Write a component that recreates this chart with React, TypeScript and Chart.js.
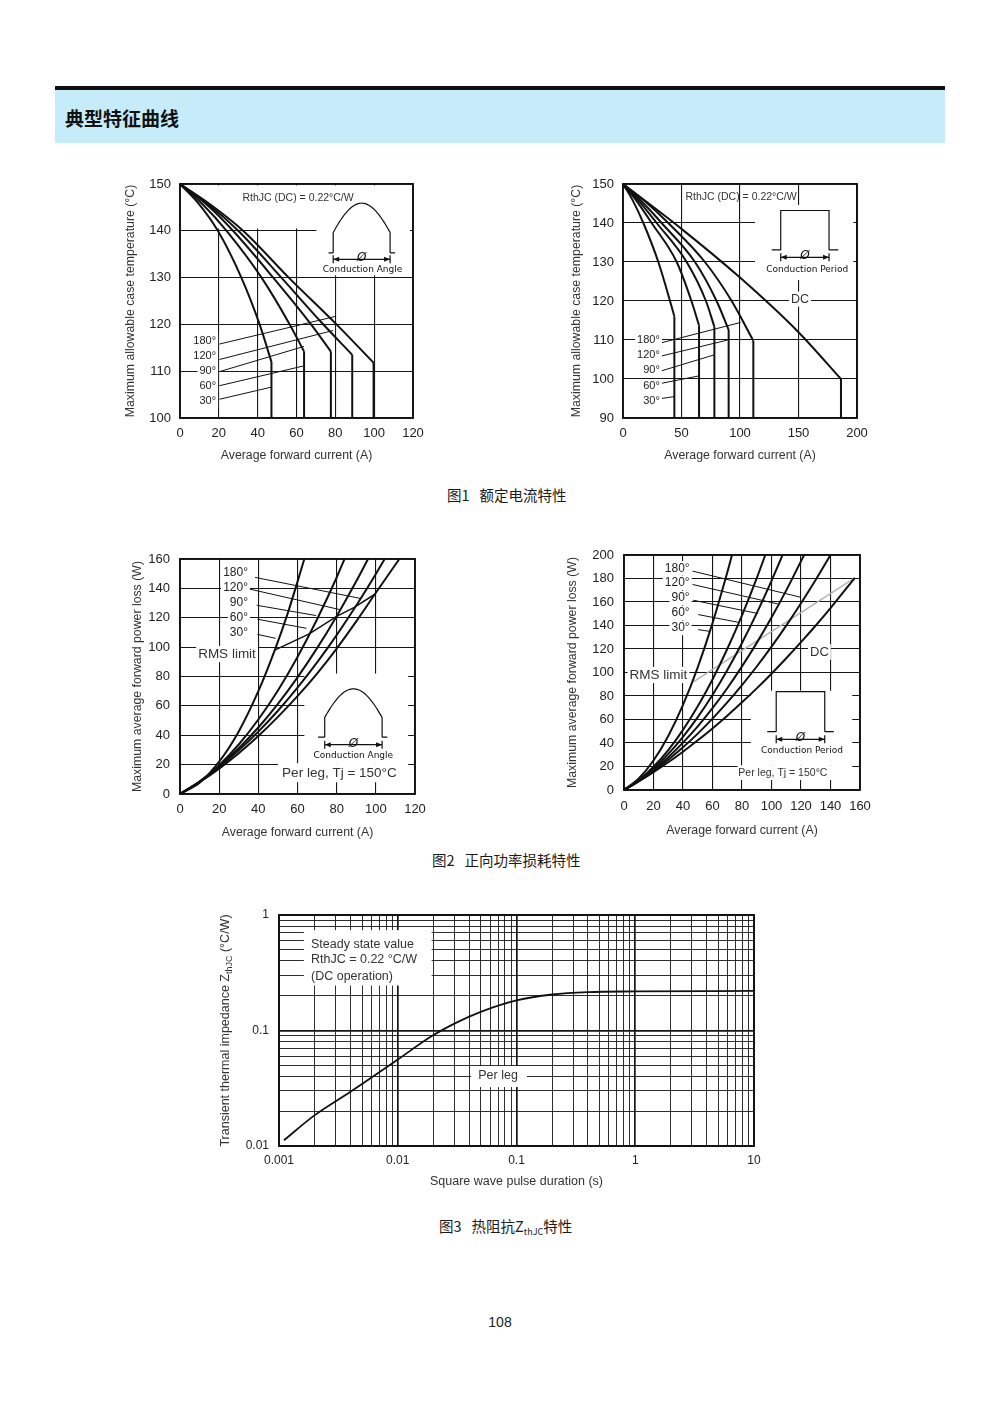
import React, { useEffect, useRef } from 'react';
import { Chart, registerables } from 'chart.js';
Chart.register(...registerables);

// ================= Figure 1 (left): case temperature vs current, sine conduction angle =================
const F1L_X_TICKS = [0, 20, 40, 60, 80, 100, 120];
const F1L_Y_TICKS = [100, 110, 120, 130, 140, 150];
const F1L_I_180 = [0, 16, 32.5, 56, 80.6, 99.7];
const F1L_T_180 = [150, 145.5, 140, 130, 120, 111.8];
const F1L_I_120 = [0, 15, 30, 52.2, 72.9, 88.7];
const F1L_T_120 = [150, 145.5, 140, 130, 120.4, 113.5];
const F1L_I_90 = [0, 14, 27.3, 48, 67.5, 77.7];
const F1L_T_90 = [150, 145.5, 140, 130, 120, 114.2];
const F1L_I_60 = [0, 12, 24, 42, 56.5, 63.9];
const F1L_T_60 = [150, 145.5, 140, 130, 120, 114.2];
const F1L_I_30 = [0, 10, 19.5, 31.6, 41, 47.1];
const F1L_T_30 = [150, 145.6, 140, 130, 120, 112];

// ================= Figure 1 (right): case temperature vs current, rectangular conduction period =================
const F1R_X_TICKS = [0, 50, 100, 150, 200];
const F1R_Y_TICKS = [90, 100, 110, 120, 130, 140, 150];
const F1R_I_DC = [0, 50, 100, 150, 186.3];
const F1R_T_DC = [150, 138.5, 126, 112, 100];
const F1R_I_180 = [0, 19, 38.7, 70, 92.9, 111.4];
const F1R_T_180 = [150, 145.5, 140, 130, 120, 109.8];
const F1R_I_120 = [0, 16, 33, 61.5, 80, 90.3];
const F1R_T_120 = [150, 145.5, 140, 130, 120, 112.6];
const F1R_I_90 = [0, 14, 28.8, 54.4, 70.9, 78.1];
const F1R_T_90 = [150, 145.5, 140, 130, 120, 113.4];
const F1R_I_60 = [0, 12, 24.5, 45.9, 58.5, 65];
const F1R_T_60 = [150, 145.5, 140, 130, 120, 113.7];
const F1R_I_30 = [0, 8, 17.4, 30.2, 40.2, 43.9];
const F1R_T_30 = [150, 146, 140, 130, 120, 116];

// ================= Figure 2 (left): power loss vs current, sine =================
const F2L_X_TICKS = [0, 20, 40, 60, 80, 100, 120];
const F2L_Y_TICKS = [0, 20, 40, 60, 80, 100, 120, 140, 160];
const F2L_I_30 = [0, 10, 20, 30, 40, 48.4, 55, 63.5];
const F2L_P_30 = [0, 7.7, 22, 42.6, 70, 98, 123, 160];
const F2L_I_60 = [0, 10, 20, 30, 40, 50, 60, 70, 80, 84];
const F2L_P_60 = [0, 8.3, 19.6, 33.7, 50.7, 70.5, 93.3, 119, 147.4, 160];
const F2L_I_90 = [0, 10, 20, 30, 40, 50, 60, 70, 80, 90, 96];
const F2L_P_90 = [0, 8.5, 18.9, 31.2, 45.3, 61.4, 79.4, 99.3, 121.1, 144.8, 160];
const F2L_I_120 = [0, 10, 20, 30, 40, 50, 60, 70, 80, 90, 100, 104.5];
const F2L_P_120 = [0, 8.4, 18.3, 29.7, 42.5, 56.7, 72.4, 89.6, 108.2, 128.3, 149.8, 160];
const F2L_I_180 = [0, 10, 20, 30, 40, 50, 60, 70, 80, 90, 100, 112];
const F2L_P_180 = [0, 8.1, 17.3, 27.8, 39.5, 52.5, 66.6, 82, 99, 117.5, 137, 160];
const F2L_RMS_I = [48.4, 66, 80, 89, 99.5];
const F2L_RMS_P = [98, 109, 121, 127, 136];

// ================= Figure 2 (right): power loss vs current, rectangular =================
const F2R_X_TICKS = [0, 20, 40, 60, 80, 100, 120, 140, 160];
const F2R_Y_TICKS = [0, 20, 40, 60, 80, 100, 120, 140, 160, 180, 200];
const F2R_I_30 = [0, 10, 20, 30, 40, 50, 60, 70, 73.2];
const F2R_P_30 = [0, 9.8, 25.1, 46, 72.4, 104.4, 142, 185.1, 200];
const F2R_I_60 = [0, 10, 20, 30, 40, 50, 60, 70, 80, 90, 95.8];
const F2R_P_60 = [0, 8.4, 19.8, 34, 51.2, 71.2, 94.1, 120, 148.7, 180.3, 200];
const F2R_I_90 = [0, 10, 20, 30, 40, 50, 60, 70, 80, 90, 100, 107.5];
const F2R_P_90 = [0, 8.1, 18.3, 30.7, 45.3, 62, 80.9, 101.9, 125.1, 150.5, 178, 200];
const F2R_I_120 = [0, 10, 20, 30, 40, 50, 60, 70, 80, 90, 100, 110, 122.1];
const F2R_P_120 = [0, 7.8, 17.1, 27.9, 40.3, 54.2, 69.6, 86.6, 105.2, 125.2, 146.8, 169.9, 200];
const F2R_I_180 = [0, 10, 20, 30, 40, 50, 60, 70, 80, 90, 100, 110, 120, 130, 140];
const F2R_P_180 = [0, 7.5, 16.1, 25.7, 36.3, 48, 60.7, 74.5, 89.3, 105.1, 122, 139.9, 158.9, 178.9, 200];
const F2R_I_DC = [0, 10, 20, 30, 40, 50, 60, 70, 80, 90, 100, 110, 120, 130, 140, 156.5];
const F2R_P_DC = [0, 7.3, 15.2, 23.6, 32.6, 42.3, 52.4, 63.2, 74.6, 86.5, 99, 112.1, 125.8, 140, 154.8, 180.6];
const F2R_RMS_I = [47.3, 156.5];
const F2R_RMS_P = [92.2, 180.6];

// ================= Figure 3: transient thermal impedance =================
const Z_X_TICKS = [0.001, 0.01, 0.1, 1, 10];
const Z_X_LABELS = ['0.001', '0.01', '0.1', '1', '10'];
const Z_Y_TICKS = [0.01, 0.1, 1];
const Z_Y_LABELS = ['0.01', '0.1', '1'];
const Z_T = [0.0011, 0.002, 0.004, 0.01, 0.0192, 0.0312, 0.05, 0.1, 0.2, 0.4, 1, 10];
const Z_Z = [0.0112, 0.0185, 0.0295, 0.056, 0.089, 0.117, 0.145, 0.182, 0.205, 0.215, 0.218, 0.22];

const ANGLES = ['180°', '120°', '90°', '60°', '30°'];

const SANS = '"Liberation Sans", Arial, sans-serif';
const TECH = '"DejaVu Sans", sans-serif';
const CJK = '"Noto Sans CJK SC", "Noto Sans", sans-serif';

type Rect4 = [number, number, number, number];
interface Lbl { text: string; x: number; y: number; size: number; align?: CanvasTextAlign; bg?: boolean; font?: string; color?: string; }
interface Inset { kind: 'sine' | 'rect'; xl: number; xr: number; yb: number; yt: number; segL: number; segR: number; arrowY: number; textX: number; textY: number; text: string; }
interface LineDef { xs: number[]; ys: number[]; width: number; color: string; smooth: boolean; }
interface AxisDef { min: number; max: number; ticks: number[]; labels: string[]; log?: boolean; title?: string; }
interface Spec {
  box: { cx: number; cy: number; cw: number; ch: number; L: number; T: number; R: number; B: number; yTitleX: number; xTitleY: number };
  x: AxisDef; y: AxisDef;
  tickSize: number; titleSize: number; xPad: number; yPad: number;
  lines: LineDef[]; masks: Rect4[]; labels: Lbl[]; insets: Inset[];
  richYTitle?: [string, string, string];
}

const curve = (xs: number[], ys: number[], w = 2): LineDef => ({ xs, ys, width: w, color: '#111', smooth: true });
const straight = (xs: number[], ys: number[], w = 1, color = '#111'): LineDef => ({ xs, ys, width: w, color, smooth: false });
const drop = (xs: number[], ys: number[], yMin: number): LineDef =>
  straight([xs[xs.length - 1], xs[xs.length - 1]], [ys[ys.length - 1], yMin], 2);
const leaders = (segs: Rect4[]): LineDef[] => segs.map(([a, b, c, d]) => straight([a, c], [b, d], 1));
const angleLabels = (x: number, ys: number[], size: number): Lbl[] =>
  ANGLES.map((t, i) => ({ text: t, x, y: ys[i], size, align: 'right' as CanvasTextAlign, bg: true }));
const str = (a: number[]) => a.map((v) => String(v));

const SPECS: Spec[] = [
  {
    box: { cx: 100, cy: 160, cw: 340, ch: 310, L: 180, T: 184, R: 413, B: 418, yTitleX: 131, xTitleY: 456 },
    x: { min: 0, max: 120, ticks: F1L_X_TICKS, labels: str(F1L_X_TICKS), title: 'Average forward current (A)' },
    y: { min: 100, max: 150, ticks: F1L_Y_TICKS, labels: str(F1L_Y_TICKS), title: 'Maximum allowable case temperature (°C)' },
    tickSize: 13, titleSize: 12.3, xPad: 8, yPad: 9,
    lines: [
      curve(F1L_I_180, F1L_T_180), drop(F1L_I_180, F1L_T_180, 100),
      curve(F1L_I_120, F1L_T_120), drop(F1L_I_120, F1L_T_120, 100),
      curve(F1L_I_90, F1L_T_90), drop(F1L_I_90, F1L_T_90, 100),
      curve(F1L_I_60, F1L_T_60), drop(F1L_I_60, F1L_T_60, 100),
      curve(F1L_I_30, F1L_T_30), drop(F1L_I_30, F1L_T_30, 100),
      ...leaders([[20.3, 115.8, 80, 121.7], [20.3, 112.5, 78.9, 118.7], [20.3, 109.9, 63.9, 115.3], [20.3, 106.9, 63.4, 111.1], [20.3, 104, 47.1, 106.6]]),
    ],
    masks: [[1, 140.5, 70.3, 149.7], [70.3, 130.5, 118.4, 149.7]],
    labels: [
      ...angleLabels(18.6, [116.5, 113.2, 110, 106.8, 103.6], 11),
      { text: 'RthJC (DC) = 0.22°C/W', x: 60.8, y: 147, size: 10.5, color: '#333' },
    ],
    insets: [{ kind: 'sine', xl: 78.9, xr: 108.2, yb: 135.3, yt: 145.9, segL: 76.5, segR: 110.8, arrowY: 133.9, textX: 94, textY: 131.8, text: 'Conduction Angle' }],
  },
  {
    box: { cx: 545, cy: 160, cw: 340, ch: 310, L: 623, T: 184, R: 857, B: 418, yTitleX: 577, xTitleY: 456 },
    x: { min: 0, max: 200, ticks: F1R_X_TICKS, labels: str(F1R_X_TICKS), title: 'Average forward current (A)' },
    y: { min: 90, max: 150, ticks: F1R_Y_TICKS, labels: str(F1R_Y_TICKS), title: 'Maximum allowable case temperature (°C)' },
    tickSize: 13, titleSize: 12.3, xPad: 8, yPad: 9,
    lines: [
      curve(F1R_I_DC, F1R_T_DC), drop(F1R_I_DC, F1R_T_DC, 90),
      curve(F1R_I_180, F1R_T_180), drop(F1R_I_180, F1R_T_180, 90),
      curve(F1R_I_120, F1R_T_120), drop(F1R_I_120, F1R_T_120, 90),
      curve(F1R_I_90, F1R_T_90), drop(F1R_I_90, F1R_T_90, 90),
      curve(F1R_I_60, F1R_T_60), drop(F1R_I_60, F1R_T_60, 90),
      curve(F1R_I_30, F1R_T_30), drop(F1R_I_30, F1R_T_30, 90),
      ...leaders([[33, 109.3, 100.5, 114.5], [33, 105.9, 89.5, 110], [33, 102.1, 78.1, 106.2], [33, 98.9, 65, 100.8], [33, 95, 43.9, 95.5]]),
    ],
    masks: [[112.8, 125.4, 196.9, 144.6]],
    labels: [
      ...angleLabels(31.5, [110, 106.2, 102.3, 98.2, 94.4], 11),
      { text: 'RthJC (DC) = 0.22°C/W', x: 100.9, y: 146.7, size: 10.5, color: '#333' },
      { text: 'DC', x: 151.3, y: 120.5, size: 12.5, bg: true, color: '#333' },
    ],
    insets: [{ kind: 'rect', xl: 134.8, xr: 176.1, yb: 133.1, yt: 143.2, segL: 127.1, segR: 184, arrowY: 131.2, textX: 157.5, textY: 128.1, text: 'Conduction Period' }],
  },
  {
    box: { cx: 100, cy: 535, cw: 340, ch: 310, L: 180, T: 559, R: 415, B: 794, yTitleX: 138, xTitleY: 833 },
    x: { min: 0, max: 120, ticks: F2L_X_TICKS, labels: str(F2L_X_TICKS), title: 'Average forward current (A)' },
    y: { min: 0, max: 160, ticks: F2L_Y_TICKS, labels: str(F2L_Y_TICKS), title: 'Maximum average forward power loss (W)' },
    tickSize: 13, titleSize: 12.3, xPad: 8, yPad: 10,
    lines: [
      curve(F2L_I_30, F2L_P_30), curve(F2L_I_60, F2L_P_60), curve(F2L_I_90, F2L_P_90),
      curve(F2L_I_120, F2L_P_120), curve(F2L_I_180, F2L_P_180),
      straight(F2L_RMS_I, F2L_RMS_P, 1.5),
      ...leaders([[38.3, 147.5, 92, 133.2], [35.6, 139.5, 81.5, 125.6], [39.2, 128.5, 69.5, 121.5], [39.5, 119, 64.6, 112.8], [39.5, 108.7, 48.8, 106]]),
    ],
    masks: [[63.5, 21, 116.5, 82], [50, 8, 116.5, 21]],
    labels: [
      ...angleLabels(34.7, [150.4, 140.2, 130, 119.8, 109.6], 12),
      { text: 'RMS limit', x: 24, y: 95.3, size: 13.5, bg: true, color: '#333' },
      { text: 'Per leg, Tj = 150°C', x: 81.4, y: 14.1, size: 13.5, color: '#333' },
    ],
    insets: [{ kind: 'sine', xl: 73.9, xr: 103.2, yb: 38.7, yt: 71.6, segL: 70.5, segR: 105.9, arrowY: 33.6, textX: 88.5, textY: 26.4, text: 'Conduction Angle' }],
  },
  {
    box: { cx: 545, cy: 530, cw: 340, ch: 315, L: 624, T: 555, R: 860, B: 790, yTitleX: 573, xTitleY: 831 },
    x: { min: 0, max: 160, ticks: F2R_X_TICKS, labels: str(F2R_X_TICKS), title: 'Average forward current (A)' },
    y: { min: 0, max: 200, ticks: F2R_Y_TICKS, labels: str(F2R_Y_TICKS), title: 'Maximum average forward power loss (W)' },
    tickSize: 13, titleSize: 12.3, xPad: 9, yPad: 10,
    lines: [
      curve(F2R_I_30, F2R_P_30), curve(F2R_I_60, F2R_P_60), curve(F2R_I_90, F2R_P_90),
      curve(F2R_I_120, F2R_P_120), curve(F2R_I_180, F2R_P_180), curve(F2R_I_DC, F2R_P_DC),
      straight(F2R_RMS_I, F2R_RMS_P, 1.5, '#b4b4b4'),
      ...leaders([[46.5, 186.3, 119.9, 164], [46.5, 174.9, 104.2, 158.4], [47, 161.5, 90.7, 150.2], [50.3, 149.3, 77.2, 142.8], [50.3, 136.5, 57.7, 135.1]]),
    ],
    masks: [[86, 21, 154.7, 84.5], [77, 8.5, 154.7, 21]],
    labels: [
      ...angleLabels(44.5, [188.7, 176.2, 163.4, 150.6, 137.9], 12),
      { text: 'RMS limit', x: 23.3, y: 97.9, size: 13.5, bg: true, color: '#333' },
      { text: 'DC', x: 132.5, y: 117.4, size: 13, bg: true, color: '#333' },
      { text: 'Per leg, Tj = 150°C', x: 107.7, y: 14.7, size: 10.5, color: '#333' },
    ],
    insets: [{ kind: 'rect', xl: 103.2, xr: 136.1, yb: 49.6, yt: 83.7, segL: 97.1, segR: 142.3, arrowY: 43.1, textX: 120.7, textY: 33.2, text: 'Conduction Period' }],
  },
  {
    box: { cx: 200, cy: 895, cw: 580, ch: 305, L: 279, T: 915, R: 754, B: 1146, yTitleX: 226, xTitleY: 1182 },
    x: { min: 0.001, max: 10, ticks: Z_X_TICKS, labels: Z_X_LABELS, log: true, title: 'Square wave pulse duration (s)' },
    y: { min: 0.01, max: 1, ticks: Z_Y_TICKS, labels: Z_Y_LABELS, log: true },
    tickSize: 12, titleSize: 12.5, xPad: 7, yPad: 10,
    lines: [curve(Z_T, Z_Z, 1.8)],
    masks: [[0.00162, 0.245, 0.0193, 0.74], [0.0415, 0.0324, 0.1225, 0.0493]],
    labels: [
      { text: 'Steady state value', x: 0.00186, y: 0.55, size: 12.5, align: 'left', color: '#333' },
      { text: 'RthJC = 0.22 °C/W', x: 0.00186, y: 0.408, size: 12.5, align: 'left', color: '#333' },
      { text: '(DC operation)', x: 0.00186, y: 0.296, size: 12.5, align: 'left', color: '#333' },
      { text: 'Per leg', x: 0.0699, y: 0.0404, size: 12.5, color: '#333' },
    ],
    insets: [],
    richYTitle: ['Transient thermal impedance Z', 'thJC', ' (°C/W)'],
  },
];

function logGrid(majors: number[]): number[] {
  const out: number[] = [];
  for (let i = 0; i < majors.length; i++) {
    out.push(majors[i]);
    if (i < majors.length - 1) for (let k = 2; k <= 9; k++) out.push(majors[i] * k);
  }
  return out;
}

function scaleCfg(spec: Spec, ax: AxisDef, isX: boolean) {
  const b = spec.box;
  const lh = spec.titleSize * 1.2;
  const all = ax.log ? logGrid(ax.ticks) : ax.ticks;
  const idx = (v: number) => ax.ticks.findIndex((t) => Math.abs(t - v) <= Math.abs(t) * 1e-6 + 1e-12);
  return {
    type: ax.log ? 'logarithmic' : 'linear',
    min: ax.min,
    max: ax.max,
    bounds: 'data',
    afterBuildTicks: (s: any) => { s.ticks = all.map((v) => ({ value: v })); },
    afterFit: (s: any) => {
      if (isX) { s.height = b.cy + b.ch - b.B; s.paddingLeft = 0; s.paddingRight = 0; }
      else { s.width = b.L - b.cx; s.paddingTop = 0; s.paddingBottom = 0; }
    },
    ticks: {
      autoSkip: false, maxRotation: 0, minRotation: 0,
      padding: isX ? spec.xPad : spec.yPad,
      color: '#222',
      font: { family: SANS, size: spec.tickSize },
      callback: (v: any) => { const i = idx(Number(v)); return i >= 0 ? ax.labels[i] : ''; },
    },
    grid: {
      color: '#161616',
      lineWidth: (c: any) => (ax.log ? (c.tick && idx(c.tick.value) >= 0 ? 1.7 : 0.9) : 1.1),
      drawTicks: false,
    },
    border: { display: false },
    title: ax.title
      ? {
          display: true, text: ax.title, color: '#333',
          font: { family: SANS, size: spec.titleSize },
          padding: isX ? { top: 0, bottom: b.cy + b.ch - b.xTitleY - lh / 2 } : { top: b.yTitleX - b.cx - lh / 2, bottom: 0 },
        }
      : { display: false },
  };
}

function drawLabel(ctx: CanvasRenderingContext2D, sx: any, sy: any, l: Lbl) {
  ctx.font = `${l.size}px ${l.font || SANS}`;
  const w = ctx.measureText(l.text).width;
  const px = sx.getPixelForValue(l.x);
  const py = sy.getPixelForValue(l.y);
  const align = l.align || 'center';
  const left = align === 'left' ? px : align === 'right' ? px - w : px - w / 2;
  if (l.bg) {
    ctx.fillStyle = '#fff';
    ctx.fillRect(left - 2, py - l.size * 0.6, w + 4, l.size * 1.2);
  }
  ctx.fillStyle = l.color || '#222';
  ctx.textAlign = 'left';
  ctx.textBaseline = 'middle';
  ctx.fillText(l.text, left, py);
}

function drawInset(ctx: CanvasRenderingContext2D, sx: any, sy: any, s: Inset) {
  const X = (v: number) => sx.getPixelForValue(v);
  const Y = (v: number) => sy.getPixelForValue(v);
  const xl = X(s.xl), xr = X(s.xr), yb = Y(s.yb), yt = Y(s.yt), ay = Y(s.arrowY);
  ctx.save();
  ctx.strokeStyle = '#111';
  ctx.fillStyle = '#111';
  ctx.lineWidth = 1.2;
  ctx.beginPath();
  ctx.moveTo(X(s.segL), yb); ctx.lineTo(xl, yb);
  ctx.moveTo(xr, yb); ctx.lineTo(X(s.segR), yb);
  if (s.kind === 'rect') {
    ctx.moveTo(xl, yb); ctx.lineTo(xl, yt); ctx.lineTo(xr, yt); ctx.lineTo(xr, yb);
  } else {
    const t0 = 0.42;
    const n = 48;
    ctx.moveTo(xl, yb);
    for (let i = 0; i <= n; i++) {
      const t = t0 + ((Math.PI - 2 * t0) * i) / n;
      ctx.lineTo(xl + ((xr - xl) * i) / n, yb + (yt - yb) * Math.sin(t));
    }
    ctx.lineTo(xr, yb);
  }
  ctx.moveTo(xl, ay); ctx.lineTo(xr, ay);
  ctx.moveTo(xl, ay - 4); ctx.lineTo(xl, ay + 4);
  ctx.moveTo(xr, ay - 4); ctx.lineTo(xr, ay + 4);
  ctx.stroke();
  ctx.beginPath();
  ctx.moveTo(xl, ay); ctx.lineTo(xl + 6, ay - 2.5); ctx.lineTo(xl + 6, ay + 2.5); ctx.closePath();
  ctx.moveTo(xr, ay); ctx.lineTo(xr - 6, ay - 2.5); ctx.lineTo(xr - 6, ay + 2.5); ctx.closePath();
  ctx.fill();
  ctx.textAlign = 'center';
  ctx.textBaseline = 'middle';
  ctx.font = `italic 12px ${TECH}`;
  ctx.fillText('Ø', (xl + xr) / 2, ay - 1);
  ctx.font = `9px ${TECH}`;
  ctx.fillText(s.text, X(s.textX), Y(s.textY));
  ctx.restore();
}

function decor(spec: Spec) {
  return {
    id: 'decor',
    beforeDatasetsDraw(chart: any) {
      const ctx = chart.ctx as CanvasRenderingContext2D;
      const sx = chart.scales.x, sy = chart.scales.y;
      ctx.save();
      ctx.fillStyle = '#fff';
      for (const [x1, y1, x2, y2] of spec.masks) {
        const a = sx.getPixelForValue(x1), c = sx.getPixelForValue(x2);
        const b2 = sy.getPixelForValue(y1), d = sy.getPixelForValue(y2);
        ctx.fillRect(Math.min(a, c), Math.min(b2, d), Math.abs(c - a), Math.abs(d - b2));
      }
      ctx.restore();
    },
    afterDatasetsDraw(chart: any) {
      const ctx = chart.ctx as CanvasRenderingContext2D;
      const sx = chart.scales.x, sy = chart.scales.y;
      ctx.save();
      for (const ins of spec.insets) drawInset(ctx, sx, sy, ins);
      for (const l of spec.labels) drawLabel(ctx, sx, sy, l);
      ctx.restore();
    },
    afterDraw(chart: any) {
      const ctx = chart.ctx as CanvasRenderingContext2D;
      const a = chart.chartArea;
      ctx.save();
      ctx.strokeStyle = '#111';
      ctx.lineWidth = 1.9;
      ctx.strokeRect(a.left, a.top, a.right - a.left, a.bottom - a.top);
      if (spec.richYTitle) {
        const [t1, t2, t3] = spec.richYTitle;
        const f1 = `${spec.titleSize}px ${SANS}`;
        const f2 = `${(spec.titleSize * 0.72).toFixed(1)}px ${SANS}`;
        ctx.translate(spec.box.yTitleX - spec.box.cx, (a.top + a.bottom) / 2);
        ctx.rotate(-Math.PI / 2);
        ctx.font = f1;
        const w1 = ctx.measureText(t1).width, w3 = ctx.measureText(t3).width;
        ctx.font = f2;
        const w2 = ctx.measureText(t2).width;
        let x = -(w1 + w2 + w3) / 2;
        ctx.fillStyle = '#333';
        ctx.textAlign = 'left';
        ctx.textBaseline = 'middle';
        ctx.font = f1; ctx.fillText(t1, x, 0); x += w1;
        ctx.font = f2; ctx.fillText(t2, x, spec.titleSize * 0.32); x += w2;
        ctx.font = f1; ctx.fillText(t3, x, 0);
      }
      ctx.restore();
    },
  };
}

function Panel({ spec }: { spec: Spec }) {
  const ref = useRef<HTMLCanvasElement>(null);
  const b = spec.box;
  useEffect(() => {
    if (!ref.current) return;
    const datasets = spec.lines.map((l) => ({
      data: l.xs.map((x, i) => ({ x, y: l.ys[i] })),
      showLine: true,
      borderColor: l.color,
      borderWidth: l.width,
      pointRadius: 0,
      fill: false,
      tension: 0,
      cubicInterpolationMode: l.smooth ? 'monotone' : 'default',
    }));
    const chart = new Chart(ref.current, {
      type: 'scatter',
      data: { datasets } as any,
      options: {
        responsive: false,
        maintainAspectRatio: false,
        animation: false,
        events: [],
        layout: { autoPadding: false, padding: { left: 0, top: b.T - b.cy, right: b.cx + b.cw - b.R, bottom: 0 } },
        plugins: { legend: { display: false }, tooltip: { enabled: false } },
        scales: { x: scaleCfg(spec, spec.x, true), y: scaleCfg(spec, spec.y, false) } as any,
      } as any,
      plugins: [decor(spec) as any],
    });
    return () => chart.destroy();
  }, [spec]);
  return (
    <canvas
      ref={ref}
      width={b.cw}
      height={b.ch}
      style={{ position: 'absolute', left: b.cx, top: b.cy, width: b.cw, height: b.ch }}
    />
  );
}

const captionStyle: React.CSSProperties = {
  position: 'absolute', fontFamily: CJK, fontSize: 14.5, lineHeight: '20px', color: '#1a1a1a', whiteSpace: 'pre',
};

export default function App() {
  return (
    <div style={{ position: 'absolute', left: 0, top: 0, width: 1000, height: 1414, background: '#fff', overflow: 'hidden' }}>
      <div style={{ position: 'absolute', left: 55, top: 86, width: 890, height: 4, background: '#111' }} />
      <div style={{ position: 'absolute', left: 55, top: 90, width: 890, height: 53, background: '#c6ecf9' }} />
      <div style={{ position: 'absolute', left: 65, top: 104, fontFamily: CJK, fontSize: 19, fontWeight: 700, lineHeight: '28px', color: '#111' }}>
        典型特征曲线
      </div>
      {SPECS.map((s, i) => (
        <Panel key={i} spec={s} />
      ))}
      <div style={{ ...captionStyle, left: 447, top: 485 }}>
        图1<span style={{ marginLeft: 10 }}>额定电流特性</span>
      </div>
      <div style={{ ...captionStyle, left: 432, top: 850 }}>
        图2<span style={{ marginLeft: 10 }}>正向功率损耗特性</span>
      </div>
      <div style={{ ...captionStyle, left: 439, top: 1216 }}>
        图3<span style={{ marginLeft: 10 }}>热阻抗Z</span>
        <span style={{ fontSize: 9, verticalAlign: -3 }}>thJC</span>特性
      </div>
      <div style={{ position: 'absolute', left: 0, width: 1000, top: 1313, textAlign: 'center', fontFamily: SANS, fontSize: 14, lineHeight: '18px', color: '#222' }}>
        108
      </div>
    </div>
  );
}
